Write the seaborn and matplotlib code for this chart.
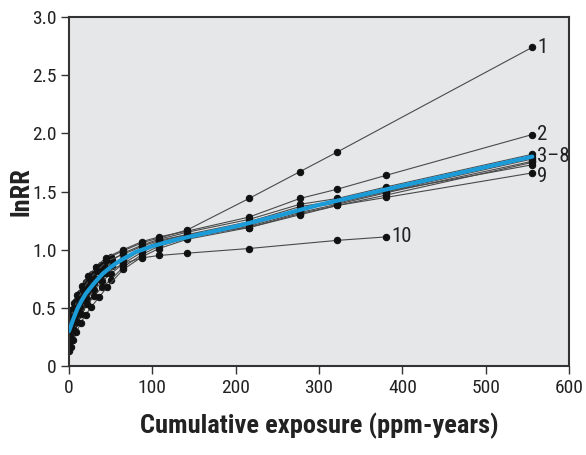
import matplotlib
matplotlib.use("Agg")
import matplotlib.pyplot as plt
from matplotlib import font_manager
import seaborn as sns
import pandas as pd

# ---- data ----
s1_x = [1, 4, 8, 13, 20, 28, 38, 50, 65, 88, 108, 142, 216, 277, 322, 556]
s1_y = [0.42, 0.48, 0.56, 0.63, 0.72, 0.79, 0.87, 0.94, 0.99, 1.06, 1.10, 1.17, 1.44, 1.67, 1.84, 2.74]

s2_x = [0.5, 3, 6, 10, 16, 23, 32, 44, 65, 88, 108, 142, 216, 277, 322, 381, 556]
s2_y = [0.43, 0.48, 0.54, 0.61, 0.69, 0.77, 0.85, 0.93, 1.00, 1.07, 1.11, 1.16, 1.28, 1.44, 1.52, 1.64, 1.99]

s3_x = [1, 4, 9, 15, 22, 30, 40, 52, 65, 88, 108, 142, 216, 277, 322, 381, 556]
s3_y = [0.37, 0.43, 0.52, 0.61, 0.69, 0.76, 0.84, 0.91, 0.97, 1.04, 1.09, 1.15, 1.26, 1.39, 1.44, 1.54, 1.82]

s4_x = [1, 4, 9, 15, 22, 30, 40, 52, 65, 88, 108, 142, 216, 277, 322, 381, 556]
s4_y = [0.32, 0.38, 0.47, 0.56, 0.64, 0.71, 0.79, 0.86, 0.92, 1.01, 1.07, 1.13, 1.24, 1.37, 1.42, 1.52, 1.80]

s5_x = [0.5, 3, 6, 10, 15, 22, 30, 40, 50, 65, 88, 108, 142, 216, 277, 322, 381, 556]
s5_y = [0.25, 0.30, 0.36, 0.43, 0.50, 0.58, 0.65, 0.73, 0.79, 0.88, 0.98, 1.05, 1.12, 1.21, 1.34, 1.41, 1.50, 1.78]

s6_x = [0.5, 3, 6, 10, 15, 22, 30, 40, 50, 65, 88, 108, 142, 216, 277, 322, 381, 556]
s6_y = [0.20, 0.25, 0.31, 0.38, 0.45, 0.53, 0.60, 0.68, 0.74, 0.85, 0.96, 1.03, 1.10, 1.20, 1.32, 1.39, 1.49, 1.76]

s7_x = [0.5, 2, 5, 9, 14, 20, 27, 36, 46, 65, 88, 108, 142, 216, 277, 322, 381, 556]
s7_y = [0.13, 0.16, 0.22, 0.29, 0.37, 0.44, 0.51, 0.59, 0.68, 0.83, 0.94, 1.01, 1.09, 1.19, 1.30, 1.38, 1.47, 1.75]

s8_x = [1, 5, 10, 16, 24, 32, 45, 65, 88, 108, 142, 216, 277, 322, 381, 556]
s8_y = [0.34, 0.42, 0.51, 0.59, 0.68, 0.75, 0.84, 0.90, 1.00, 1.06, 1.12, 1.22, 1.35, 1.40, 1.50, 1.73]

s9_x = [2, 6, 11, 17, 25, 34, 45, 65, 88, 108, 142, 216, 277, 322, 381, 556]
s9_y = [0.42, 0.50, 0.58, 0.66, 0.75, 0.82, 0.90, 0.96, 1.03, 1.08, 1.13, 1.19, 1.31, 1.38, 1.45, 1.66]

s10_x = [1, 4, 8, 13, 19, 26, 35, 45, 65, 88, 108, 142, 216, 322, 381]
s10_y = [0.35, 0.41, 0.49, 0.56, 0.63, 0.69, 0.75, 0.80, 0.88, 0.93, 0.95, 0.97, 1.01, 1.08, 1.11]

fit_x = [0, 3, 5, 10, 15, 20, 30, 40, 50, 60, 80, 100, 125, 150, 200, 250, 300, 400, 500, 556]
fit_y = [0.30, 0.36, 0.40, 0.49, 0.56, 0.62, 0.71, 0.79, 0.85, 0.90, 0.98, 1.03, 1.08, 1.12, 1.20, 1.29, 1.385, 1.55, 1.71, 1.80]

series_labels = ["1", "2", "3–8", "9", "10"]
label_y = [2.74, 1.99, 1.80, 1.63, 1.11]
label_x = [556, 556, 556, 556, 381]

x_ticks = [0, 100, 200, 300, 400, 500, 600]
y_ticks = [0, 0.5, 1.0, 1.5, 2.0, 2.5, 3.0]
y_ticklabels = ["0", "0.5", "1.0", "1.5", "2.0", "2.5", "3.0"]

all_x = [s1_x, s2_x, s3_x, s4_x, s5_x, s6_x, s7_x, s8_x, s9_x, s10_x]
all_y = [s1_y, s2_y, s3_y, s4_y, s5_y, s6_y, s7_y, s8_y, s9_y, s10_y]

rows = []
for i, (xs, ys) in enumerate(zip(all_x, all_y)):
    for xv, yv in zip(xs, ys):
        rows.append({"series": i + 1, "x": xv, "y": yv})
df = pd.DataFrame(rows)
fit = pd.DataFrame({"x": fit_x, "y": fit_y})

# ---- font choice: prefer a condensed face ----
installed = {f.name for f in font_manager.fontManager.ttflist}
main_font = "DejaVu Sans"
for cand in ["Liberation Sans Narrow", "Roboto Condensed", "Open Sans Condensed",
             "Noto Sans Condensed", "Roboto", "Liberation Sans"]:
    if cand in installed:
        main_font = cand
        break
condensed = main_font in ("Liberation Sans Narrow", "Roboto Condensed",
                          "Open Sans Condensed", "Noto Sans Condensed")

# ---- plotting ----
sns.set_theme(style="white")
FONT = [main_font, "DejaVu Sans"]
plt.rcParams["font.family"] = FONT

fig = plt.figure(figsize=(5.86, 4.55), dpi=100)
ax = fig.add_axes([0.1177, 0.1956, 0.971 - 0.1177, 0.9626 - 0.1956])
ax.set_facecolor("#e6e7e8")

sns.lineplot(data=df, x="x", y="y", units="series", estimator=None, sort=False,
             color="#4a4a4a", linewidth=0.8, marker="o", markersize=4.6,
             markerfacecolor="#111111", markeredgecolor="#111111", ax=ax, zorder=2)
sns.lineplot(data=fit, x="x", y="y", color="#1b9bd7", linewidth=3, ax=ax, zorder=3)

tick_size = 14 if condensed else 12.5
lab_size = 19 if condensed else 16.5
for lab, lx, ly in zip(series_labels, label_x, label_y):
    ax.text(lx + 6, ly, lab, fontsize=tick_size + 1, va="center", ha="left",
            color="#222222")

ax.set_xlim(0, 600)
ax.set_ylim(0, 3.0)
ax.set_xticks(x_ticks)
ax.set_yticks(y_ticks)
ax.set_yticklabels(y_ticklabels)
ax.tick_params(axis="both", which="both", direction="out", length=6, width=1,
               color="#333333", labelsize=tick_size, labelcolor="#222222", pad=3,
               bottom=True, left=True)
for sp in ax.spines.values():
    sp.set_visible(True)
    sp.set_color("#333333")
    sp.set_linewidth(1.5)

ax.set_xlabel("Cumulative exposure (ppm-years)", fontsize=lab_size, fontweight="bold",
              color="#222222", labelpad=12)
ax.set_ylabel("lnRR", fontsize=lab_size, fontweight="bold", color="#222222", labelpad=-1)

fig.savefig("out.png", dpi=100)
